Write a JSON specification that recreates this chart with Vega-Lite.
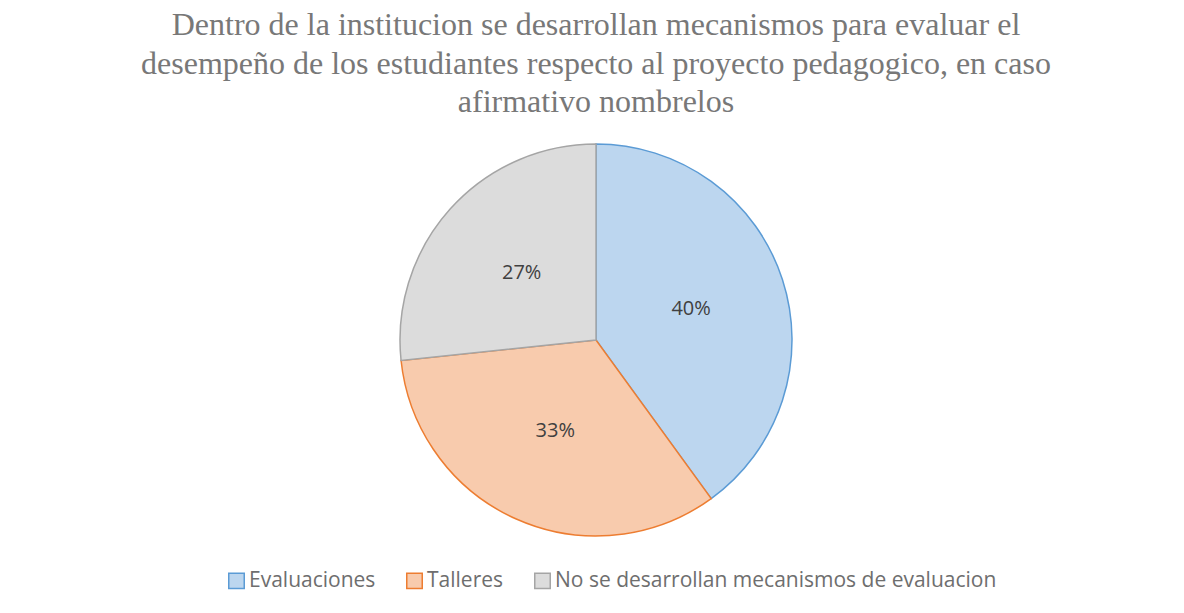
{
  "$schema": "https://vega.github.io/schema/vega-lite/v6.json",
  "width": 1176,
  "height": 420,
  "autosize": {"type": "none"},
  "padding": {"left": 8, "top": 130, "right": 0, "bottom": 63},
  "background": "white",
  "title": {
    "text": ["Dentro de la institucion se desarrollan mecanismos para evaluar el", "desempeño de los estudiantes respecto al proyecto pedagogico, en caso", "afirmativo nombrelos"],
    "font": "Liberation Serif",
    "fontSize": 32,
    "fontWeight": "normal",
    "color": "#787878",
    "anchor": "middle",
    "lineHeight": 38.5,
    "offset": 11
  },
  "data": {
    "values": [
      {"categoria": "Evaluaciones", "cantidad": 6, "etiqueta": "40%", "orden": 1},
      {"categoria": "Talleres", "cantidad": 5, "etiqueta": "33%", "orden": 2},
      {"categoria": "No se desarrollan mecanismos de evaluacion", "cantidad": 4, "etiqueta": "27%", "orden": 3}
    ]
  },
  "encoding": {
    "theta": {"field": "cantidad", "type": "quantitative", "stack": true},
    "order": {"field": "orden", "type": "quantitative"}
  },
  "layer": [
    {
      "mark": {"type": "arc", "radius": 196, "strokeWidth": 1.5},
      "encoding": {
        "fill": {
          "field": "categoria", "type": "nominal",
          "scale": {"domain": ["Evaluaciones", "Talleres", "No se desarrollan mecanismos de evaluacion"], "range": ["#bcd6ef", "#f8cbad", "#dcdcdc"]},
          "legend": {
            "title": null,
            "orient": "none",
            "legendX": 218,
            "legendY": 440,
            "direction": "horizontal",
            "symbolType": "square",
            "symbolSize": 240,
            "symbolStrokeWidth": 1.5,
            "labelFont": "Open Sans",
            "labelFontSize": 21,
            "labelColor": "#6e6e6e",
            "labelOffset": 2,
            "columnPadding": 27,
            "labelLimit": 700
          }
        },
        "stroke": {
          "field": "categoria", "type": "nominal",
          "scale": {"domain": ["Evaluaciones", "Talleres", "No se desarrollan mecanismos de evaluacion"], "range": ["#5b9bd5", "#ed7d31", "#a5a5a5"]}
        }
      }
    },
    {
      "mark": {"type": "text", "radius": 100, "font": "Open Sans", "fontSize": 20, "color": "#404040"},
      "encoding": {
        "text": {"field": "etiqueta", "type": "nominal"}
      }
    }
  ]
}
